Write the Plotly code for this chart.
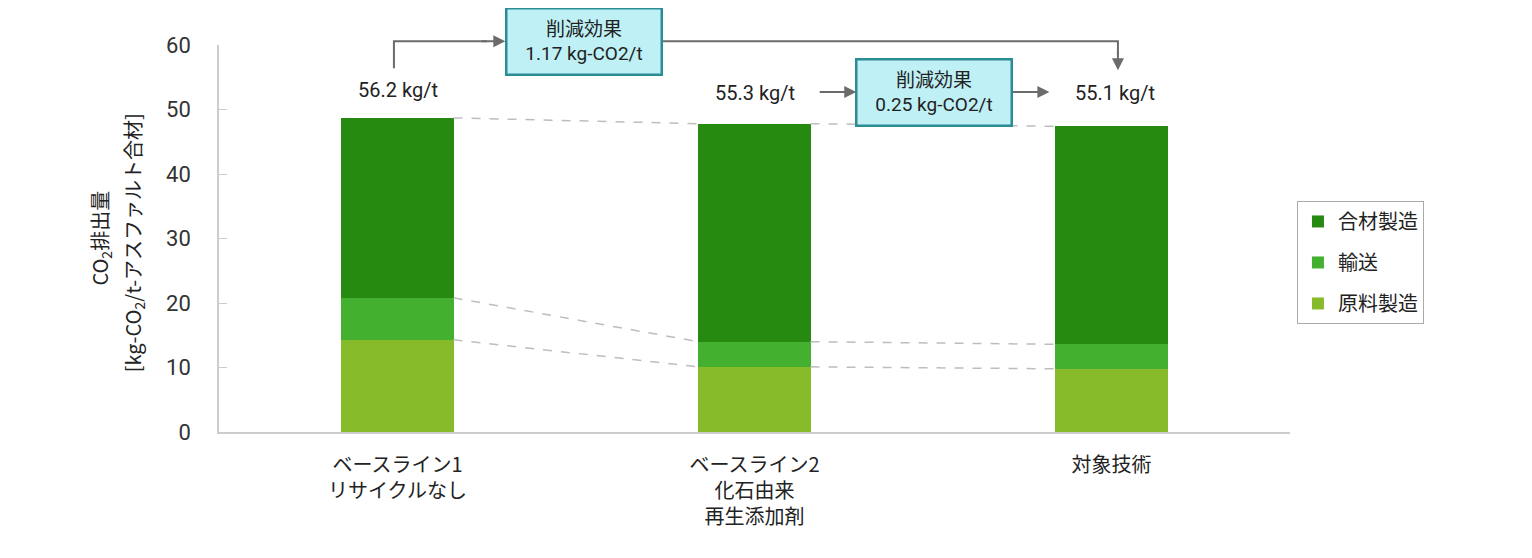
import plotly.graph_objects as go

# データ
categories = ["ベースライン1<br>リサイクルなし", "ベースライン2<br>化石由来<br>再生添加剤", "対象技術"]
raw_material = [14.3, 10.1, 9.8]     # 原料製造
transport = [6.5, 3.9, 3.8]          # 輸送
mixing = [27.9, 33.8, 33.8]          # 合材製造
totals = [56.2, 55.3, 55.1]          # kg/t
reductions = [1.17, 0.25]            # kg-CO2/t

FONT = "Roboto, Noto Sans CJK JP, sans-serif"
JP = "Noto Sans CJK JP, sans-serif"
W = 0.314
xs = list(range(len(categories)))

fig = go.Figure()

# 積み上げ棒 (凡例は上から 合材製造, 輸送, 原料製造)
series = [
    ("原料製造", raw_material, "#88bb2a", 3),
    ("輸送", transport, "#43b02f", 2),
    ("合材製造", mixing, "#268a10", 1),
]
for name, vals, color, rank in series:
    fig.add_trace(go.Bar(
        x=xs, y=vals, name=name, width=W, legendgroup=name, legendrank=rank,
        marker=dict(color=color, line=dict(width=0)),
    ))

# 棒同士をつなぐ点線
levels = []
acc = [0] * len(xs)
for _, vals, _, _ in series:
    acc = [a + v for a, v in zip(acc, vals)]
    levels.append(acc)
for lv in levels:
    for i in range(len(xs) - 1):
        fig.add_trace(go.Scatter(
            x=[xs[i] + W / 2, xs[i + 1] - W / 2], y=[lv[i], lv[i + 1]],
            mode="lines", showlegend=False, hoverinfo="skip",
            line=dict(color="#bdbdbd", width=1.5, dash="dash"),
        ))


def xp(x):
    return (x + 0.5) / 3


def yp(y):
    return y / 60


# 合計ラベル
label_y = [53.0, 52.6, 52.6]
label_x = [0, 1, 2.01]
for i, t in enumerate(totals):
    fig.add_annotation(x=xp(label_x[i]), y=yp(label_y[i]), xref="paper", yref="paper",
                       xanchor="center", yanchor="middle",
                       text=f"{t} kg/t", showarrow=False,
                       font=dict(family=FONT, size=20, color="#222"))

# 削減効果ボックス
box_pos = [(0.522, 60.6), (1.504, 52.7)]
for (bx, by), r in zip(box_pos, reductions):
    fig.add_annotation(x=xp(bx), y=yp(by), xref="paper", yref="paper",
                       xanchor="center", yanchor="middle",
                       text=f"削減効果<br>{r} kg-CO2/t", showarrow=False,
                       font=dict(family=FONT, size=19, color="#222"),
                       bgcolor="#bff0f5", bordercolor="#2a8d96", borderwidth=2.5,
                       width=151, height=62, borderpad=1)

arrow_col = "#6b6b6b"


def head(x, y, ax, ay):
    fig.add_annotation(x=xp(x), y=yp(y), xref="paper", yref="paper",
                       ax=ax, ay=ay, text="", showarrow=True,
                       arrowhead=2, arrowsize=1.2, arrowwidth=2, arrowcolor=arrow_col)


# 矢印1: 56.2 → ボックス1
fig.add_shape(type="path", xref="paper", yref="paper",
              path=f"M {xp(-0.01)} {yp(56.4)} L {xp(-0.01)} {yp(60.6)} L {xp(0.25)} {yp(60.6)}",
              line=dict(color=arrow_col, width=2))
head(0.302, 60.6, -25, 0)
# 矢印2: ボックス1 → 55.1
fig.add_shape(type="path", xref="paper", yref="paper",
              path=f"M {xp(0.74)} {yp(60.6)} L {xp(2.018)} {yp(60.6)} L {xp(2.018)} {yp(58.5)}",
              line=dict(color=arrow_col, width=2))
head(2.018, 56.1, 0, -20)
# 矢印3, 4
head(1.285, 52.7, -38, 0)
head(1.826, 52.7, -38, 0)

# 縦軸タイトル (2行)
fig.add_annotation(x=-0.111, y=0.5, xref="paper", yref="paper", textangle=-90,
                   xanchor="center", yanchor="middle",
                   text="CO<sub>2</sub>排出量", showarrow=False,
                   font=dict(family=JP, size=20, color="#222"))
fig.add_annotation(x=-0.0803, y=0.49, xref="paper", yref="paper", textangle=-90,
                   xanchor="center", yanchor="middle",
                   text="[kg-CO<sub>2</sub>/t-アスファルト合材]", showarrow=False,
                   font=dict(family=JP, size=20, color="#222"))

fig.update_layout(
    width=1532, height=558,
    barmode="stack",
    plot_bgcolor="white", paper_bgcolor="white",
    margin=dict(l=211, r=250, t=37, b=134),
    font=dict(family=JP, size=16, color="#222"),
    legend=dict(x=1.0065, y=0.597, xanchor="left", yanchor="top",
                traceorder="grouped", bordercolor="#aaaaaa", borderwidth=1,
                font=dict(family=JP, size=20, color="#222"),
                itemwidth=30, tracegroupgap=12),
    showlegend=True,
)
fig.update_xaxes(
    tickvals=xs, ticktext=categories, range=[-0.5, 2.5],
    showline=True, linecolor="#cccccc", linewidth=2, ticks="",
    ticklabelstandoff=14,
    tickfont=dict(family=JP, size=20, color="#222"), showgrid=False,
    zeroline=False,
)
fig.update_yaxes(
    range=[0, 60], dtick=10, showgrid=False, zeroline=False,
    showline=True, linecolor="#cccccc", linewidth=1.5,
    ticks="inside", ticklen=8, tickcolor="#cccccc", ticklabelstandoff=22,
    tickfont=dict(family=FONT, size=22, color="#333"),
)

fig.write_html("out.html")
